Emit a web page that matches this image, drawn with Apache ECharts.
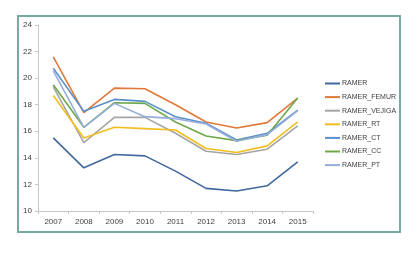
<!DOCTYPE html>
<html><head><meta charset="utf-8">
<script src="https://cdn.jsdelivr.net/npm/echarts@6/dist/echarts.min.js"></script>
<style>html,body{margin:0;padding:0;background:#fff}#c{width:420px;height:255px}</style>
</head><body><div id="c"></div>
<script>
var years = ['2007','2008','2009','2010','2011','2012','2013','2014','2015'];
var RAMER        = [15.5, 13.25, 14.25, 14.15, 13.0, 11.7, 11.5, 11.9, 13.7];
var RAMER_FEMUR  = [21.6, 17.4, 19.25, 19.2, 18.0, 16.7, 16.25, 16.65, 18.5];
var RAMER_VEJIGA = [19.35, 15.15, 17.05, 17.05, 15.85, 14.5, 14.25, 14.65, 16.4];
var RAMER_RT     = [18.7, 15.5, 16.3, 16.2, 16.1, 14.7, 14.4, 14.9, 16.7];
var RAMER_CT     = [20.75, 17.5, 18.4, 18.25, 17.1, 16.6, 15.35, 15.85, 17.6];
var RAMER_CC     = [19.5, 16.3, 18.15, 18.1, 16.7, 15.65, 15.3, 15.7, 18.5];
var RAMER_PT     = [20.55, 16.3, 18.1, 17.1, 16.95, 16.55, 15.25, 15.75, 17.55];
var names  = ['RAMER','RAMER_FEMUR','RAMER_VEJIGA','RAMER_RT','RAMER_CT','RAMER_CC','RAMER_PT'];
var values = [RAMER, RAMER_FEMUR, RAMER_VEJIGA, RAMER_RT, RAMER_CT, RAMER_CC, RAMER_PT];
var colors = ['#41689f','#e0793a','#a5a5a5','#f2bd1e','#5a8fcc','#6fa84a','#96aedb'];
var yTicks = [10,12,14,16,18,20,22,24];

var chart = echarts.init(document.getElementById('c'), null, {renderer:'canvas'});
chart.setOption({
  animation:false,
  color:colors,
  graphic:[{type:'rect', shape:{x:18,y:16,width:382,height:216}, style:{fill:'none', stroke:'#74aca4', lineWidth:2}, z:-1}],
  grid:{left:38, right:107, top:25, bottom:44},
  legend:{
    orient:'vertical', left:325, top:79, padding:0, itemWidth:15, itemHeight:2, itemGap:4.6,
    icon:'rect',
    textStyle:{fontFamily:'Liberation Sans', fontSize:7, lineHeight:9, color:'#404040', padding:[0,0,0,-3]},
    data:names
  },
  xAxis:{
    type:'category', data:years, boundaryGap:true,
    axisLine:{lineStyle:{color:'#c8c8c8', width:1}},
    axisTick:{show:true, length:3, lineStyle:{color:'#c8c8c8'}},
    axisLabel:{fontFamily:'Liberation Sans', fontSize:8, color:'#404040', margin:7}
  },
  yAxis:{
    type:'value', min:10, max:24, interval:2,
    axisLine:{show:true, lineStyle:{color:'#c8c8c8', width:1}},
    axisTick:{show:true, length:3, lineStyle:{color:'#c8c8c8'}},
    splitLine:{show:false},
    axisLabel:{fontFamily:'Liberation Sans', fontSize:8, color:'#404040', margin:6,
      formatter:function(v){return yTicks.indexOf(v)>=0?String(v):'';}}
  },
  series: names.map(function(n,i){
    return {name:n, type:'line', data:values[i], symbol:'none', lineStyle:{width:1.6, color:colors[i]}, itemStyle:{color:colors[i]}};
  })
});
</script></body></html>
